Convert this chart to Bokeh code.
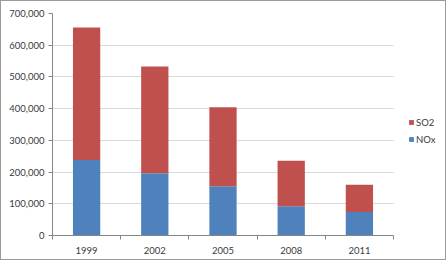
from bokeh.plotting import figure
from bokeh.models import FixedTicker, NumeralTickFormatter, Legend, LegendItem, Range1d, BoxAnnotation
from bokeh.embed import file_html
from bokeh.resources import INLINE

years = ["1999", "2002", "2005", "2008", "2011"]
nox = [238000, 196000, 155000, 92000, 74000]
so2 = [418000, 337000, 249000, 144000, 86000]
yticks = [0, 100000, 200000, 300000, 400000, 500000, 600000, 700000]

n = len(years)
xs = [i + 0.5 for i in range(n)]
data = dict(x=xs, NOx=nox, SO2=so2)

# frame spans canvas x 51..444; category area 51..392
x_end = n * (444 - 51) / (392 - 51)

FONT = "Lato"
p = figure(width=446, height=260, output_backend="svg", toolbar_location=None,
           x_range=Range1d(0, x_end), y_range=Range1d(0, 700000),
           min_border_left=51, min_border_right=2, min_border_top=12, min_border_bottom=26,
           styles={"border": "1px solid #9A9A9A"})
p.outline_line_color = None
p.background_fill_color = "white"
p.border_fill_color = "white"

rs = p.vbar_stack(["NOx", "SO2"], x="x", width=0.4, source=data,
                  color=["#4F81BD", "#C0504D"], line_color=None)

# blank out the grid beyond the category area (legend area)
p.add_layout(BoxAnnotation(left=n, fill_color="white", fill_alpha=1, line_color=None))

p.xaxis.bounds = (0, n)
p.xaxis.ticker = FixedTicker(ticks=xs, minor_ticks=list(range(n + 1)))
p.xaxis.major_label_overrides = {x: y for x, y in zip(xs, years)}
p.xaxis.major_tick_line_color = None
p.xaxis.minor_tick_line_color = "#868686"
p.xaxis.minor_tick_out = 4
p.xaxis.minor_tick_in = 0
p.xaxis.axis_line_color = "#868686"
p.xaxis.major_label_standoff = 5

p.yaxis.ticker = FixedTicker(ticks=yticks)
p.yaxis.formatter = NumeralTickFormatter(format="0,0")
p.yaxis.major_tick_out = 4
p.yaxis.major_tick_in = 0
p.yaxis.minor_tick_line_color = None
p.yaxis.axis_line_color = "#868686"
p.yaxis.major_tick_line_color = "#868686"
p.yaxis.major_label_standoff = 4

for ax in (p.xaxis, p.yaxis):
    ax.major_label_text_font = FONT
    ax.major_label_text_font_size = "9.5px"
    ax.major_label_text_color = "#3a3a3a"

p.xgrid.grid_line_color = None
p.ygrid.grid_line_color = "#D9D9D9"
p.ygrid.grid_line_width = 1
p.ygrid.ticker = FixedTicker(ticks=yticks)

legend = Legend(items=[LegendItem(label="SO2", renderers=[rs[1]]),
                       LegendItem(label="NOx", renderers=[rs[0]])],
                location=(356, 90), orientation="vertical")
legend.border_line_color = None
legend.background_fill_alpha = 0
legend.label_text_font = FONT
legend.label_text_font_size = "9.5px"
legend.label_text_color = "#3a3a3a"
legend.glyph_width = 6
legend.glyph_height = 6
legend.label_standoff = 2
legend.spacing = 5
legend.padding = 0
legend.margin = 0
legend.label_height = 12
p.add_layout(legend, "center")

open("out.html", "w").write(file_html(p, INLINE))
